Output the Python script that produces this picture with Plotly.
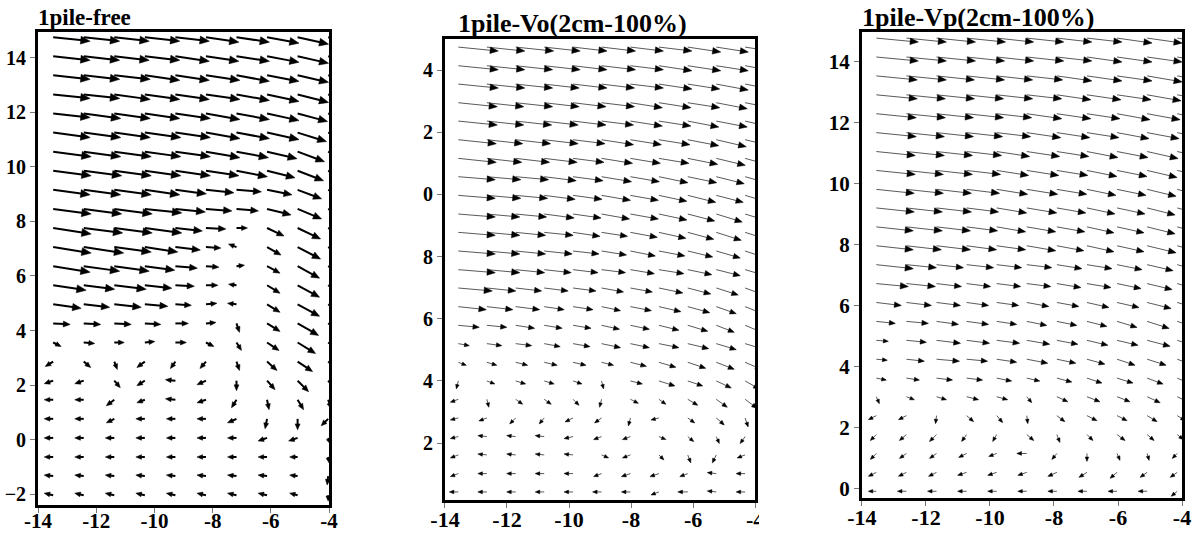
import numpy as np
import plotly.graph_objects as go

W, H = 1193, 535

# ---------------- 1pile-free ----------------
free_x = [-13.48, -12.43, -11.38, -10.33, -9.28, -8.23, -7.18, -6.13, -5.08, -4.03]
free_y = [14.76, 14.06, 13.36, 12.66, 11.96, 11.26, 10.56, 9.86, 9.16, 8.46,
          7.76, 7.06, 6.36, 5.66, 4.96, 4.26, 3.56, 2.86, 2.16, 1.46,
          0.76, 0.06, -0.64, -1.34, -2.04]
free_u = [
    [37, 36, 35, 35, 34, 33, 33, 32, 31, 30],
    [37, 36, 35, 35, 34, 33, 33, 32, 31, 30],
    [37, 36, 36, 35, 34, 34, 33, 32, 31, 30],
    [37, 36, 36, 35, 34, 34, 33, 32, 31, 29],
    [37, 37, 36, 35, 35, 34, 33, 32, 30, 28],
    [37, 37, 36, 36, 35, 34, 33, 32, 29, 27],
    [38, 37, 37, 36, 35, 34, 32, 30, 27, 25],
    [38, 38, 37, 36, 35, 33, 31, 28, 26, 24],
    [37, 37, 37, 35, 31, 28, 25, 25, 24, 22],
    [38, 38, 38, 37, 30, 26, 22, 24, 24, 22],
    [38, 39, 38, 37, 27, 20, 11, 17, 23, 22],
    [38, 40, 37, 33, 25, 15, -8, 14, 23, 22],
    [37, 36, 35, 30, 22, 13, 8, 13, 22, 22],
    [33, 31, 32, 27, 19, 12, -8, 13, 22, 20],
    [28, 26, 27, 23, 16, 11, -9, 13, 22, 20],
    [17, 17, 17, 16, 13, 10, 3, 13, 21, 20],
    [8, 11, 10, 10, 11, 8, 5, 12, 18, 18],
    [-8, 7, 3, -8, -5, -6, 3, 10, 15, 16],
    [-9, -9, 6, -8, -10, -9, 0, 8, 11, 8],
    [-9, -9, -8, -8, -10, -9, -5, 2, 6, 3],
    [-9, -9, -8, -9, -9, -9, -9, -2, 0, -7],
    [-9, -9, -9, -9, -9, -9, -9, -9, -9, 2],
    [-9, -9, -9, -9, -9, -9, -9, -9, -8, 1],
    [-9, -9, -9, -9, -9, -9, -9, -9, -8, -1],
    [-9, -9, -9, -9, -9, -9, -9, -9, -8, 0],
]
free_v = [
    [-4, -4, -4, -4, -4, -5, -5, -6, -7, -8],
    [-4, -4, -4, -4, -5, -5, -5, -6, -7, -8],
    [-4, -4, -4, -5, -5, -5, -6, -6, -7, -8],
    [-4, -4, -5, -5, -5, -5, -6, -7, -8, -9],
    [-4, -5, -5, -5, -5, -6, -6, -7, -8, -10],
    [-5, -5, -5, -5, -5, -6, -6, -7, -9, -10],
    [-5, -5, -5, -5, -5, -6, -6, -7, -10, -11],
    [-5, -5, -5, -5, -5, -5, -6, -7, -10, -11],
    [-5, -5, -5, -5, -4, -3, -2, -5, -9, -10],
    [-5, -5, -5, -4, -3, -2, -2, -6, -10, -11],
    [-6, -5, -5, -5, -3, -1, 0, -8, -11, -11],
    [-6, -6, -5, -5, -3, -1, 3, -8, -12, -12],
    [-6, -5, -5, -4, -2, -1, 1, -7, -12, -12],
    [-5, -4, -4, -3, -1, 0, 1, -8, -12, -12],
    [-4, -3, -3, -2, -1, 1, 1, -8, -12, -12],
    [-1, -1, -1, -1, 0, 1, -9, -8, -12, -12],
    [-4, -1, 0, 1, 0, -4, -8, -8, -11, -11],
    [-5, -6, -8, -6, -7, -7, -9, -9, -10, -11],
    [-3, -3, -7, -5, 1, -4, -10, -9, -11, -10],
    [0, 0, -6, -3, 1, -3, -8, -10, -10, -9],
    [0, 0, -4, 0, 0, 0, -4, -10, -11, -7],
    [0, 0, 0, 0, 0, 0, 0, -3, -3, -6],
    [0, 0, 0, 0, 0, 0, 0, 0, 0, -6],
    [1, 1, 1, 1, 1, 1, 1, 1, 1, -9],
    [2, 2, 2, 2, 2, 2, 2, 2, 2, -6],
]

# ---------------- 1pile-Vo(2cm-100%) ----------------
vo_x = [-13.57, -12.65, -11.72, -10.80, -9.87, -8.95, -8.02, -7.10, -6.17, -5.25, -4.32]
vo_y = [14.74, 14.14, 13.55, 12.95, 12.36, 11.76, 11.16, 10.57, 9.97, 9.37,
        8.78, 8.18, 7.58, 6.99, 6.39, 5.79, 5.20, 4.60, 4.00, 3.41,
        2.81, 2.21, 1.62, 1.02, 0.43]
vo_u = [
    [40, 38, 38, 36, 34, 34, 33, 33, 33, 32, 32],
    [40, 38, 37, 36, 34, 34, 33, 33, 33, 32, 32],
    [40, 38, 37, 35, 34, 33, 33, 33, 32, 32, 31],
    [39, 37, 37, 35, 33, 33, 32, 32, 32, 31, 31],
    [39, 37, 36, 34, 33, 32, 32, 32, 31, 31, 30],
    [38, 36, 35, 34, 32, 32, 31, 31, 31, 30, 30],
    [38, 35, 34, 33, 31, 31, 30, 30, 30, 29, 29],
    [37, 34, 33, 32, 30, 30, 29, 29, 29, 28, 28],
    [37, 34, 32, 31, 29, 29, 28, 28, 28, 27, 27],
    [37, 33, 31, 30, 28, 28, 28, 28, 27, 26, 26],
    [37, 33, 30, 29, 27, 26, 27, 27, 26, 25, 25],
    [37, 33, 30, 28, 26, 25, 25, 26, 25, 24, 24],
    [37, 33, 29, 27, 25, 24, 24, 25, 24, 24, 24],
    [34, 29, 26, 24, 23, 22, 22, 24, 23, 22, 22],
    [28, 26, 24, 20, 20, 19, 21, 22, 22, 20, 20],
    [21, 20, 19, 18, 18, 18, 19, 20, 20, 18, 19],
    [11, 15, 16, 16, 17, 19, 19, 20, 21, 20, 20],
    [8, 10, 12, 13, 13, 12, 16, 17, 18, 18, 16],
    [-2, 8, 10, 10, 9, 2, 12, 16, 15, 15, 14],
    [-8, 2, 7, 7, 6, -2, 8, 7, 10, 11, 12],
    [-8, -8, -6, -5, -8, -7, -2, -8, 7, 8, 3],
    [-8, -9, -9, -9, -9, -8, -8, 7, 6, 3, -5],
    [-8, -9, -9, -9, -9, 7, -8, 5, 3, -4, -8],
    [-8, -9, -9, -9, -9, -8, -9, -9, -8, -9, -9],
    [-9, -9, -9, -9, -9, -9, -9, -8, -10, -9, -9],
]
vo_v = [
    [-4, -4, -4, -4, -4, -4, -4, -4, -5, -5, -5],
    [-4, -4, -4, -4, -4, -4, -4, -5, -5, -5, -6],
    [-4, -4, -4, -4, -4, -4, -4, -5, -5, -6, -6],
    [-4, -4, -4, -4, -4, -4, -5, -5, -5, -6, -6],
    [-4, -4, -4, -4, -4, -4, -5, -5, -6, -6, -7],
    [-4, -4, -4, -4, -4, -5, -5, -5, -6, -7, -7],
    [-4, -4, -4, -4, -4, -5, -5, -5, -6, -7, -8],
    [-3, -3, -3, -4, -4, -5, -5, -6, -6, -7, -8],
    [-3, -3, -3, -4, -4, -5, -5, -6, -7, -7, -8],
    [-3, -3, -3, -4, -4, -5, -5, -6, -7, -8, -8],
    [-3, -3, -3, -3, -4, -4, -5, -6, -7, -8, -8],
    [-3, -3, -3, -3, -3, -4, -5, -5, -6, -7, -8],
    [-3, -3, -3, -3, -3, -3, -4, -4, -5, -6, -7],
    [-3, -3, -3, -3, -3, -4, -4, -5, -6, -7, -8],
    [-3, -3, -3, -3, -3, -4, -4, -5, -6, -7, -8],
    [-2, -2, -3, -3, -3, -4, -4, -5, -6, -7, -8],
    [-2, -2, -2, -3, -3, -4, -4, -4, -5, -6, -6],
    [-3, -3, -3, -3, -3, -3, -4, -5, -6, -7, -7],
    [-8, -3, -3, -3, -3, -8, -3, -5, -5, -7, -8],
    [-3, -8, -5, -5, -6, -8, -4, -5, -6, -8, -9],
    [-2, -3, -6, -6, -4, -5, -8, -2, -5, -7, -9],
    [-2, 1, 1, 1, -2, -3, -3, -3, -5, -7, -7],
    [-3, 1, 1, 1, 1, -3, -3, -5, -8, -8, -3],
    [-3, 0, 0, 0, 0, -3, -3, -3, -3, 1, 0],
    [0, 0, 0, 0, 0, 0, 0, -3, 0, 1, 0],
]

# ---------------- 1pile-Vp(2cm-100%) ----------------
vp_x = [-13.55, -12.61, -11.67, -10.73, -9.79, -8.85, -7.91, -6.97, -6.03, -5.09, -4.15]
vp_y = [14.78, 14.16, 13.54, 12.92, 12.30, 11.68, 11.06, 10.44, 9.82, 9.21,
        8.59, 7.97, 7.35, 6.73, 6.11, 5.49, 4.87, 4.25, 3.63, 3.02,
        2.40, 1.78, 1.16, 0.54, -0.08]
vp_u = [
    [42, 40, 39, 39, 37, 37, 35, 35, 35, 35, 35],
    [42, 40, 39, 38, 37, 37, 35, 35, 35, 35, 35],
    [41, 40, 38, 38, 36, 36, 35, 35, 35, 35, 35],
    [41, 39, 38, 37, 36, 35, 34, 34, 34, 34, 34],
    [40, 39, 37, 37, 35, 35, 34, 33, 33, 33, 34],
    [40, 38, 37, 36, 34, 34, 33, 32, 32, 32, 33],
    [39, 38, 36, 35, 33, 33, 32, 31, 31, 31, 32],
    [39, 37, 36, 34, 32, 32, 31, 30, 30, 30, 31],
    [38, 37, 35, 33, 31, 31, 30, 29, 29, 29, 30],
    [38, 36, 35, 32, 30, 30, 29, 28, 28, 28, 30],
    [37, 36, 34, 31, 29, 29, 28, 27, 27, 28, 29],
    [37, 35, 34, 30, 29, 29, 27, 27, 27, 29, 29],
    [37, 30, 27, 27, 25, 25, 25, 25, 25, 26, 26],
    [32, 29, 25, 24, 24, 24, 24, 24, 24, 25, 25],
    [25, 25, 24, 22, 22, 22, 22, 22, 22, 24, 24],
    [19, 22, 22, 22, 20, 20, 20, 20, 20, 22, 22],
    [12, 20, 24, 23, 23, 23, 21, 21, 21, 23, 22],
    [11, 18, 23, 21, 20, 21, 19, 18, 18, 19, 19],
    [10, 13, 16, 16, 15, 13, 15, 15, 16, 16, 16],
    [3, 8, 10, 12, 11, 5, 11, 13, 13, 13, 13],
    [-8, -8, -1, 7, 6, 1, 8, 10, 10, 10, 8],
    [-6, -7, -7, -5, -4, 7, 3, 6, 8, 7, 6],
    [-6, -7, -7, -8, -8, -10, -5, 0, 3, 2, -5],
    [-8, -8, -8, -9, -9, -9, -9, -8, -7, -7, -7],
    [-8, -9, -9, -9, -9, -9, -9, -9, -9, -9, -6],
]
vp_v = [
    [-4, -4, -4, -4, -4, -4, -4, -4, -5, -5, -5],
    [-4, -4, -4, -4, -4, -4, -4, -5, -5, -5, -6],
    [-4, -4, -4, -4, -4, -4, -5, -5, -5, -6, -6],
    [-4, -4, -4, -4, -4, -4, -5, -5, -5, -6, -6],
    [-4, -4, -4, -4, -4, -5, -5, -5, -6, -6, -7],
    [-4, -4, -4, -4, -4, -5, -5, -5, -6, -6, -7],
    [-4, -4, -4, -4, -5, -5, -5, -6, -6, -7, -7],
    [-4, -4, -4, -4, -5, -5, -5, -6, -6, -7, -7],
    [-4, -4, -4, -4, -5, -5, -5, -6, -6, -7, -8],
    [-4, -4, -4, -4, -5, -5, -5, -6, -6, -7, -8],
    [-4, -4, -4, -4, -5, -5, -5, -6, -6, -7, -8],
    [-4, -4, -4, -4, -4, -5, -5, -6, -6, -7, -8],
    [-4, -3, -3, -3, -3, -3, -4, -4, -5, -6, -7],
    [-3, -3, -3, -3, -3, -3, -4, -4, -5, -6, -7],
    [-3, -3, -3, -3, -3, -4, -4, -5, -5, -6, -7],
    [-2, -2, -3, -3, -3, -4, -4, -5, -6, -7, -7],
    [-1, -2, -3, -3, -3, -4, -4, -5, -5, -6, -7],
    [-1, -2, -2, -2, -3, -4, -4, -5, -6, -6, -7],
    [-2, -2, -2, -2, -3, -3, -4, -5, -5, -6, -7],
    [-7, -3, -3, -3, -3, -6, -5, -5, -5, -6, -6],
    [-4, -4, -8, -6, -7, -8, -6, -5, -5, -6, -5],
    [-6, -6, -7, -7, -7, -6, -8, -6, -6, -6, -5],
    [-6, -5, -5, -4, -3, 0, -6, -8, -7, -7, -5],
    [-4, -4, -4, -3, -3, -3, -4, -5, -6, -5, -5],
    [0, 0, 0, 0, 0, 0, 0, 0, 0, 0, -5],
]

x_ticks = [-14, -12, -10, -8, -6, -4]

panels = [
    dict(title="1pile-free", xs=free_x, ys=free_y, u=free_u, v=free_v,
         dom_x=[0.0319, 0.2758], dom_y=[0.0561, 0.9402], y_range=[-2.4, 14.95],
         y_ticks=[-2, 0, 2, 4, 6, 8, 10, 12, 14], y_text=None,
         shaft=dict(color="black", width=2),
         # head length = clip(a + b*L, lo, hi) px, half width = k * length
         head=(4.2, 0.16, 5.2, 9.5, 0.42),
         title_pos=(0.0302, 0.9402), title_size=23,
         xtick_size=21, xtick_standoff=-10, ytick_size=20),
    dict(title="1pile-Vo(2cm-100%)", xs=vo_x, ys=vo_y, u=vo_u, v=vo_v,
         dom_x=[0.3730, 0.6329], dom_y=[0.0654, 0.9271], y_range=[0.17, 15.0],
         y_ticks=[2, 4, 6, 8, 10, 12, 14], y_text=["2", "4", "6", "8", "0", "2", "4"],
         shaft=dict(color="#5a5a5a", width=1),
         head=(3.2, 0.15, 4.4, 8.2, 0.40),
         title_pos=(0.3822, 0.9252), title_size=26,
         xtick_size=22, xtick_standoff=-7, ytick_size=20),
    dict(title="1pile-Vp(2cm-100%)", xs=vp_x, ys=vp_y, u=vp_u, v=vp_v,
         dom_x=[0.7225, 0.9908], dom_y=[0.0692, 0.9402], y_range=[-0.3, 14.98],
         y_ticks=[0, 2, 4, 6, 8, 10, 12, 14], y_text=None,
         shaft=dict(color="#5a5a5a", width=1),
         head=(3.2, 0.15, 4.4, 8.2, 0.40),
         title_pos=(0.7209, 0.9364), title_size=26,
         xtick_size=22, xtick_standoff=-7, ytick_size=21),
]

fig = go.Figure()
font_family = "Liberation Serif, Times New Roman, serif"

for n, p in enumerate(panels, start=1):
    sfx = "" if n == 1 else str(n)
    xa, ya = "x" + sfx, "y" + sfx
    # screen pixels per axis unit, from the subplot domain and range
    sx = W * (p["dom_x"][1] - p["dom_x"][0]) / 10.0
    sy = H * (p["dom_y"][1] - p["dom_y"][0]) / (p["y_range"][1] - p["y_range"][0])
    a, b, lo, hi, kw = p["head"]
    lx, ly, tx, ty = [], [], [], []
    for i, y0 in enumerate(p["ys"]):
        for j, x0 in enumerate(p["xs"]):
            u, v = p["u"][i][j], p["v"][i][j]
            L = float(np.hypot(u, v))
            if L == 0:
                continue
            ex, ey = u / L, v / L          # unit direction (screen px)
            hl = float(np.clip(a + b * L, lo, hi))
            hw = kw * hl
            # shaft from tail to the base of the head
            base = max(L - 0.8 * hl, 0.0)
            lx += [x0, x0 + base * ex / sx, None]
            ly += [y0, y0 + base * ey / sy, None]
            # filled triangular head, tip at the end of the vector
            px, py = x0 + u / sx, y0 + v / sy
            bx, by = px - hl * ex / sx, py - hl * ey / sy
            nx, ny = -ey * hw / sx, ex * hw / sy
            tx += [px, bx + nx, bx - nx, px, None]
            ty += [py, by + ny, by - ny, py, None]
    fig.add_trace(go.Scatter(x=lx, y=ly, mode="lines", line=p["shaft"],
                             xaxis=xa, yaxis=ya, hoverinfo="skip", showlegend=False))
    fig.add_trace(go.Scatter(x=tx, y=ty, mode="lines", fill="toself",
                             fillcolor="black", line=dict(color="black", width=0.5),
                             xaxis=xa, yaxis=ya, hoverinfo="skip", showlegend=False))

    common = dict(showline=True, mirror=True, linewidth=3, linecolor="black",
                  ticks="outside", ticklen=5, tickwidth=1, tickcolor="#777777",
                  showgrid=False, zeroline=False, fixedrange=True, automargin=False)
    fig.layout["xaxis" + sfx] = dict(
        domain=p["dom_x"], range=[-14, -4], anchor=ya,
        tickmode="array", tickvals=x_ticks, ticktext=[str(t) for t in x_ticks],
        ticklabelstandoff=p["xtick_standoff"],
        tickfont=dict(family=font_family, size=p["xtick_size"], color="black", weight="bold"),
        **common)
    yax = dict(domain=p["dom_y"], range=p["y_range"], anchor=xa,
               tickmode="array", tickvals=p["y_ticks"],
               tickfont=dict(family=font_family, size=p["ytick_size"], color="black", weight="bold"),
               **common)
    if p["y_text"] is not None:
        yax["ticktext"] = p["y_text"]
    fig.layout["yaxis" + sfx] = yax

    fig.add_annotation(text="<b>%s</b>" % p["title"], xref="paper", yref="paper",
                       x=p["title_pos"][0], y=p["title_pos"][1],
                       xanchor="left", yanchor="bottom", showarrow=False,
                       font=dict(family=font_family, size=p["title_size"], color="black"))

# the "-4" of the middle panel is cut off by the neighbouring panel
fig.add_shape(type="rect", xref="paper", yref="paper", x0=759 / W, x1=800 / W,
              y0=0, y1=27 / H, fillcolor="white", line_width=0, layer="above")

fig.update_layout(width=W, height=H,
                  margin=dict(l=0, r=0, t=0, b=0, pad=0, autoexpand=False),
                  paper_bgcolor="white", plot_bgcolor="white", autosize=False)

fig.write_html("out.html",
               post_script="document.body.style.margin='0';"
                           "document.body.style.overflow='hidden';")
